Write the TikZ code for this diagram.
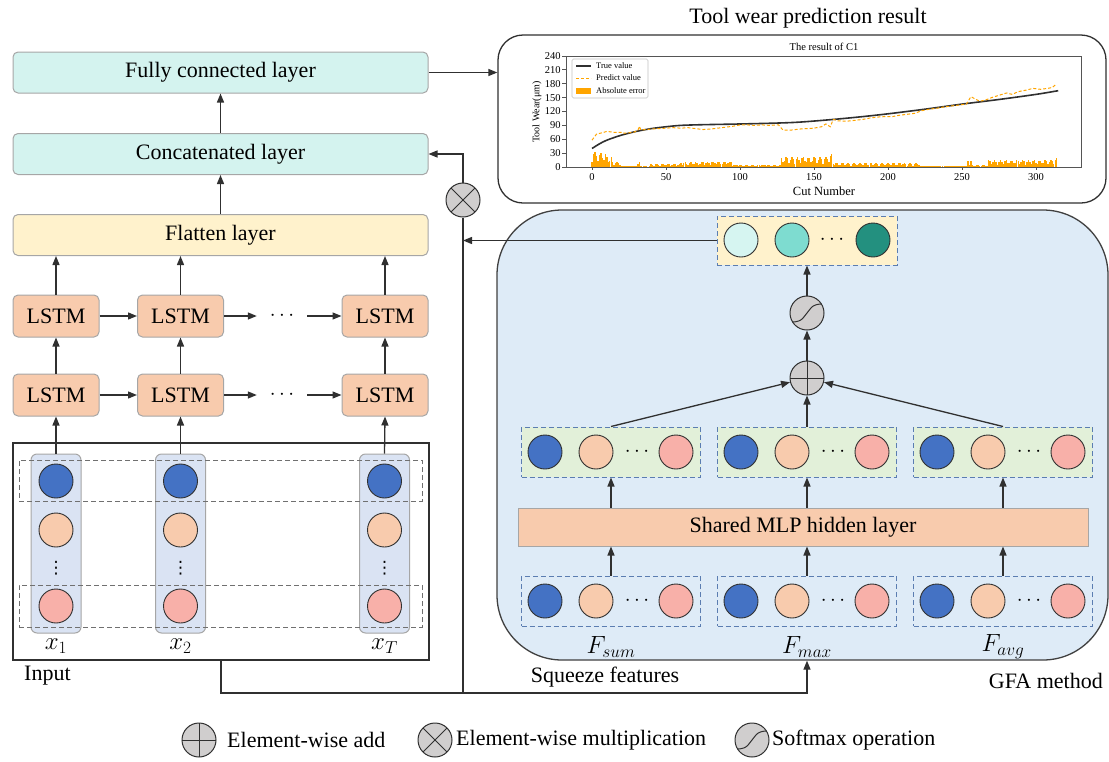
\documentclass[tikz,border=0pt]{standalone}
\usepackage{fontspec}
\setmainfont{Liberation Serif}
\newfontfamily\symfont{DejaVu Sans}
\usetikzlibrary{arrows.meta,calc}

\definecolor{linec}{HTML}{303030}
\definecolor{bordc}{HTML}{A6A6A6}
\definecolor{cyanc}{HTML}{D4F3EF}
\definecolor{yelc}{HTML}{FFF2CC}
\definecolor{lstmc}{HTML}{F8CBAD}
\definecolor{colc}{HTML}{DAE3F3}
\definecolor{gfac}{HTML}{DEEBF7}
\definecolor{gfab}{HTML}{404040}
\definecolor{greenc}{HTML}{E2F0D9}
\definecolor{dashc}{HTML}{5B7DB1}
\definecolor{grayd}{HTML}{707070}
\definecolor{blueb}{HTML}{4472C4}
\definecolor{peachb}{HTML}{F8CBAD}
\definecolor{pinkb}{HTML}{F8B0A9}
\definecolor{tealA}{HTML}{D6F5F1}
\definecolor{tealB}{HTML}{7EDCD0}
\definecolor{tealC}{HTML}{23907F}
\definecolor{symc}{HTML}{D0CECE}
\definecolor{barc}{HTML}{FFA500}
\definecolor{axc}{HTML}{555555}

\tikzset{
  arr/.style={draw=linec, line width=1.3pt, -{Triangle[length=9pt,width=7pt]}},
  ln/.style={draw=linec, line width=1.3pt},
  layer/.style={draw=bordc, line width=1pt, rounded corners=5pt,
    minimum width=415pt, minimum height=41pt},
  lstmbox/.style={layer, fill=lstmc, minimum width=86pt, minimum height=42pt},
  colbox/.style={draw=bordc, fill=colc, line width=1pt, rounded corners=6pt,
    minimum width=50pt, minimum height=179pt},
  rowdash/.style={draw=grayd, line width=1pt, dash pattern=on 5pt off 3pt,
    minimum width=403pt},
  grpdash/.style={draw=dashc, line width=1pt, dash pattern=on 5pt off 3pt,
    minimum width=179pt, minimum height=50pt},
  ball/.style={circle, draw=linec, line width=0.9pt, minimum size=34pt},
  opcirc/.style={circle, draw=linec, line width=1pt, fill=symc, minimum size=34pt},
  addsym/.style={opcirc, path picture={
    \draw[linec, line width=1pt] (path picture bounding box.north) -- (path picture bounding box.south)
      (path picture bounding box.west) -- (path picture bounding box.east);}},
  mulsym/.style={opcirc, path picture={
    \draw[linec, line width=1pt] (path picture bounding box.north west) -- (path picture bounding box.south east)
      (path picture bounding box.north east) -- (path picture bounding box.south west);}},
  smsym/.style={opcirc, path picture={
    \draw[linec, line width=1pt, shift={(path picture bounding box.center)}]
      (-15,9) .. controls (-4,9) and (-3,3) .. (0,0) .. controls (3,-3) and (4,-9) .. (15,-9);}},
  tickf/.style={font=\fontsize{10.5}{12}\selectfont},
  legf/.style={font=\fontsize{8.5}{10}\selectfont},
  truel/.style={draw=linec, line width=1.6pt},
  predl/.style={draw=barc, line width=1pt, dash pattern=on 3pt off 2pt},
  mathf/.style={font=\fontsize{24}{28}\selectfont},
  vdotf/.style={font=\symfont\fontsize{17}{19}\selectfont},
}

\begin{document}
\begin{tikzpicture}[x=1pt, y=-1pt, font=\fontsize{22}{26}\selectfont,
  every node/.append style={inner sep=0pt}]
\useasboundingbox (0,0) rectangle (1109,761);

% ---------- LSTM branch ----------
\node[layer, fill=cyanc] (fc) at (220.5,72.5) {Fully connected layer};
\node[layer, fill=cyanc] (cat) at (220.5,154) {Concatenated layer};
\node[layer, fill=yelc] (flat) at (220.5,235) {Flatten layer};

\foreach \n/\xx in {1/56,2/180.5,3/385}{
  \node[lstmbox] (u\n) at (\xx,316) {LSTM};
  \node[lstmbox] (v\n) at (\xx,395) {LSTM};
}
\node[minimum width=50pt] (du) at (282,316) {$\cdots$};
\node[minimum width=50pt] (dv) at (282,395) {$\cdots$};

\draw[arr] (cat) -- (fc);
\draw[arr] (flat) -- (cat);
\foreach \r in {u,v}{
  \draw[arr] (\r1) -- (\r2);
  \draw[arr] (\r2) -- (d\r);
  \draw[arr] (d\r) -- (\r3);
}
\foreach \n in {1,2,3}{
  \draw[arr] (u\n) -- (u\n |- flat.south);
  \draw[arr] (v\n) -- (u\n);
}

% ---------- input window ----------
\node[draw=linec, line width=1.2pt, minimum width=416pt, minimum height=217pt] (inp) at (221,551.5) {};
\foreach \n/\xx in {1/56,2/180.5,3/384.5}{
  \node[colbox] (c\n) at (\xx,543.5) {};
}
\node[rowdash, minimum height=41pt] (rowA) at (220.5,480.5) {};
\node[rowdash, minimum height=42pt] (rowB) at (220.5,606) {};
\foreach \n/\xx/\lab in {1/56/x_1,2/180.5/x_2,3/384.5/x_T}{
  \node[ball, fill=blueb] (c\n-1) at (\xx,481) {};
  \node[ball, fill=peachb] (c\n-2) at (\xx,530) {};
  \node[vdotf] (c\n-d) at (\xx,568) {⋮};
  \node[ball, fill=pinkb] (c\n-3) at (\xx,606) {};
  \node[mathf] (xl\n) at (\xx,646) {$\lab$};
  \draw[arr] (c\n.north) -- (v\n.south);
}
\node[anchor=west] (inlab) at (24,676) {Input};

% ---------- prediction chart ----------
\node (ctitle) at (808,18) {Tool wear prediction result};
\node[draw=linec, line width=1.3pt, rounded corners=25pt,
  minimum width=608pt, minimum height=168pt] (chart) at (802,119) {};
\node[font=\fontsize{10.5}{12}\selectfont] (ptitle) at (824,47) {The result of C1};
\node[font=\fontsize{12.5}{14}\selectfont] (xlab) at (824,191) {Cut Number};
\node[font=\fontsize{10}{12}\selectfont, rotate=90] (ylab) at (537,112) {Tool Wear(μm)};

\begin{scope}[shift={(592,167)}, x=1.48pt, y=0.4625pt]
  % absolute error bars
  \foreach \a/\b/\h in {0/4/23,4/10/21,10/14/15,14/20/8,20/31/2,31/33/8,33/40/1.5,
      40/60/4.5,60/75/7,75/95/8,95/128/3,128/160/15,160/163/19,163/222/6,
      222/254/2,254/257/11,257/268/3,268/312/10,312/315/14}{
    \pgfmathtruncatemacro\ee{\b-1}
    \foreach \bx in {\a,...,\ee}{
      \pgfmathsetmacro\hh{\h*(0.45+abs(sin(\bx*47.3)))}
      \fill[barc] (\bx-0.48,0) rectangle (\bx+0.48,\hh);
    }
  }
  % true wear curve
  \draw[truel] plot[smooth] coordinates {(0,40) (5,50) (10,58) (20,69) (30,77) (40,83)
    (50,87) (60,90) (75,91.5) (100,93) (125,95) (140,97) (160,102) (180,108)
    (200,115) (225,125) (250,136) (275,146) (300,157) (315,165)};
  % predicted wear
  \draw[predl] plot coordinates {(0,58) (3,71) (8,75) (10,77) (15,75) (20,75) (22,73)
    (28,75) (31,79) (32,88) (33,80) (40,82) (50,84) (55,85) (60,84) (65,85) (70,83)
    (75,81) (80,82) (85,84) (90,86) (95,88) (100,91) (105,91) (110,90) (115,91)
    (120,90) (126,91) (129,80) (135,80) (140,82) (145,83) (150,84) (155,87) (158,93)
    (161,87) (163,103) (166,100) (172,99) (178,101) (183,103) (188,106) (193,108)
    (198,109) (203,109) (208,112) (213,114) (218,116) (223,122) (228,125) (233,127)
    (238,130) (243,132) (248,134) (253,136) (256,152) (259,147) (262,142) (266,145)
    (270,150) (275,155) (280,160) (284,157) (288,163) (293,166) (298,170) (303,168)
    (308,170) (311,172) (314,180)};
  % axes frame and ticks
  \draw[axc, line width=0.9pt] (-17.6,0) rectangle (331,240);
  \foreach \v in {0,30,...,240}{
    \draw[axc, line width=0.8pt] (-17.6,\v) -- ++(-2.4,0)
      node[anchor=east, xshift=-1.5pt, tickf, text=black] {\v};
  }
  \foreach \v in {0,50,...,300}{
    \draw[axc, line width=0.8pt] (\v,0) -- ++(0,-7)
      node[anchor=north, yshift=-2.5pt, tickf, text=black] {\v};
  }
\end{scope}

% chart legend
\node[draw=bordc!70, line width=0.6pt, rounded corners=1.5pt,
  minimum width=76pt, minimum height=39pt] (leg) at (610,78.5) {};
\draw[truel] (576,66) -- (591,66);
\node[anchor=west, legf] (lg1) at (596,66) {True value};
\draw[predl] (576,78) -- (591,78);
\node[anchor=west, legf] (lg2) at (596,78) {Predict value};
\fill[barc] (576,88) rectangle (591,94);
\node[anchor=west, legf] (lg3) at (596,91) {Absolute error};

% ---------- GFA module ----------
\node[draw=gfab, fill=gfac, line width=1.3pt, rounded corners=65pt,
  minimum width=611pt, minimum height=450pt] (gfa) at (802.5,435) {};

\node[grpdash, fill=yelc, minimum width=180pt, minimum height=49pt] (att) at (807,240.5) {};
\node[ball, fill=tealA] (att-1) at (741,240) {};
\node[ball, fill=tealB] (att-2) at (792,240) {};
\node (att-d) at (832,240) {$\cdots$};
\node[ball, fill=tealC] (att-3) at (873,240) {};

\node[smsym] (sm) at (807,313) {};
\node[addsym] (addc) at (807,378) {};

\node[draw=bordc, fill=lstmc, line width=1pt, minimum width=570pt, minimum height=38pt]
  (mlp) at (803,527) {Shared MLP hidden layer};

\foreach \n/\cx/\lab in {1/611/sum,2/807/max,3/1003/avg}{
  \node[grpdash, fill=greenc] (g\n) at (\cx,452) {};
  \node[ball, fill=blueb] (g\n-1) at (\cx-66,452) {};
  \node[ball, fill=peachb] (g\n-2) at (\cx-15,452) {};
  \node (g\n-d) at (\cx+26,452) {$\cdots$};
  \node[ball, fill=pinkb] (g\n-3) at (\cx+65,452) {};
  \node[grpdash] (b\n) at (\cx,601) {};
  \node[ball, fill=blueb] (b\n-1) at (\cx-66,601) {};
  \node[ball, fill=peachb] (b\n-2) at (\cx-15,601) {};
  \node (b\n-d) at (\cx+26,601) {$\cdots$};
  \node[ball, fill=pinkb] (b\n-3) at (\cx+65,601) {};
  \node[mathf] (fl\n) at (\cx,647) {$F_{\lab}$};
  \draw[arr] (b\n.north) -- (b\n.north |- mlp.south);
  \draw[arr] (mlp.north -| g\n) -- (g\n.south);
}
\draw[arr] (g1.north) -- (addc);
\draw[arr] (g3.north) -- (addc);
\draw[arr] (g2.north) -- (addc);
\draw[arr] (addc) -- (sm);
\draw[arr] (sm) -- (att.south);

\node (sq) at (605,677) {Squeeze features};
\node[anchor=east] (gm) at (1103,681) {GFA method};

% ---------- skip path and gating ----------
\node[mulsym] (mul) at (463,200) {};
\coordinate (bus) at (807,693);
\draw[arr] (inp.south) |- (bus) -- (gfa.south -| bus);
\draw[ln] (mul.south) -- (mul.south |- bus);
\draw[arr] (att.west) -- (att.west -| mul);
\draw[arr] (mul.north) |- (cat.east);
\draw[arr] (fc.east) -- (fc.east -| chart.west);

% ---------- symbol legend ----------
\node[addsym] (lga) at (199,740) {};
\node[anchor=west] (lgat) at (227,740) {Element-wise add};
\node[mulsym] (lgm) at (435,740) {};
\node[anchor=west] (lgmt) at (456,740) {Element-wise multiplication};
\node[smsym] (lgs) at (752,740) {};
\node[anchor=west] (lgst) at (772,740) {Softmax operation};
\end{tikzpicture}
\end{document}
